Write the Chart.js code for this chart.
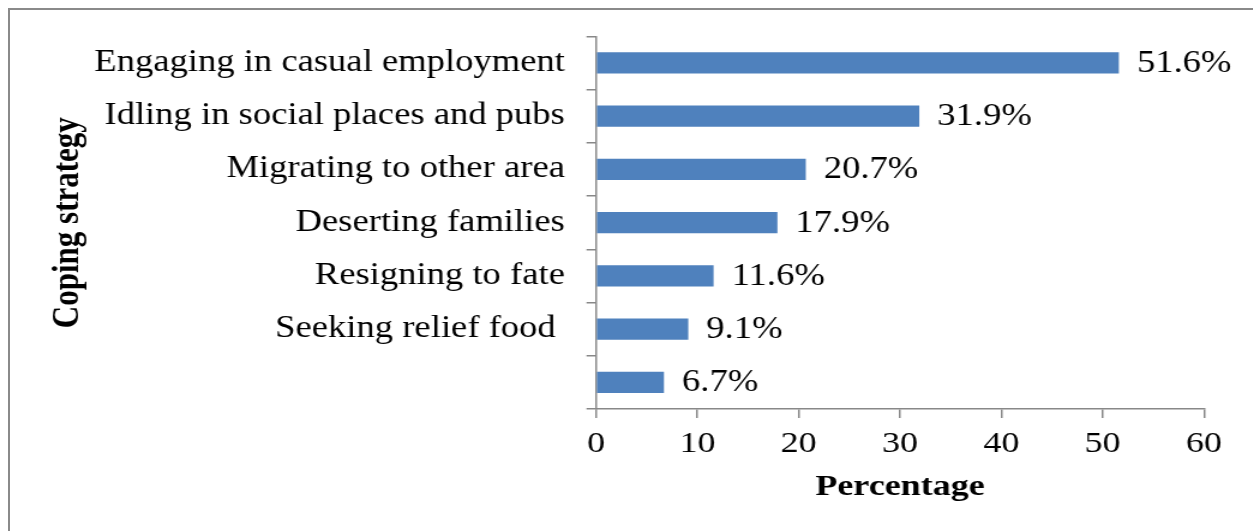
<!DOCTYPE html>
<html>
<head>
<meta charset="utf-8">
<script src="https://cdn.jsdelivr.net/npm/chart.js@4/dist/chart.umd.min.js"></script>
<style>
  html, body { margin: 0; padding: 0; background: #fff; overflow: hidden; }
  #frame {
    position: absolute; left: 8px; top: 8px; width: 1270px; height: 560px;
    border: 2px solid #8a8a8a; box-sizing: border-box;
  }
  #wrap {
    position: absolute; left: 0; top: 0; width: 1044px; height: 531px;
    transform: scaleX(1.2); transform-origin: 0 0;
  }
</style>
</head>
<body>
<div id="frame"></div>
<div id="wrap"><canvas id="myCanvas" width="1044" height="531"></canvas></div>
<script>
const strategies = [
  "Engaging in casual employment",
  "Idling in social places and pubs",
  "Migrating to other area",
  "Deserting families",
  "Resigning to fate",
  "Seeking relief food ",
  "",
];
const percentages = [51.6, 31.9, 20.7, 17.9, 11.6, 9.1, 6.7];
const xTicks = [0, 10, 20, 30, 40, 50, 60];

const serif = "'Liberation Serif', 'Times New Roman', serif";
const axisGrey = "#888888";

// writes "xx.x%" just past the end of every bar
const valueLabels = {
  id: "valueLabels",
  afterDatasetsDraw(chart) {
    const { ctx } = chart;
    const meta = chart.getDatasetMeta(0);
    ctx.save();
    ctx.font = "30.5px " + serif;
    ctx.fillStyle = "#000";
    ctx.textAlign = "left";
    ctx.textBaseline = "middle";
    meta.data.forEach((bar, i) => {
      ctx.fillText(percentages[i].toFixed(1) + "%", bar.x + 15, bar.y + 1);
    });
    ctx.restore();
  },
};

const printChart = () => {
  const ctx = document.getElementById("myCanvas").getContext("2d");

  new Chart(ctx, {
    type: "bar",
    data: {
      labels: strategies,
      datasets: [
        {
          data: percentages,
          backgroundColor: "#4F81BD",
          borderWidth: 0,
          categoryPercentage: 1,
          barPercentage: 0.4,
        },
      ],
    },
    options: {
      indexAxis: "y",
      responsive: false,
      animation: false,
      layout: { padding: { top: 35, right: 40.7, bottom: 0, left: 0 } },
      plugins: { legend: { display: false }, tooltip: { enabled: false } },
      scales: {
        x: {
          min: 0,
          max: 60,
          afterBuildTicks: (axis) => {
            axis.ticks = xTicks.map((v) => ({ value: v }));
          },
          afterFit: (axis) => {
            axis.height = 122;
          },
          ticks: { color: "#000", font: { family: serif, size: 30 }, padding: 8 },
          grid: { drawOnChartArea: false, tickLength: 9, color: axisGrey, lineWidth: 1.5 },
          border: { color: axisGrey, width: 1.5 },
          title: {
            display: true,
            text: "Percentage",
            color: "#000",
            font: { family: serif, size: 30, weight: "bold" },
            padding: { top: 0, bottom: 26 },
          },
        },
        y: {
          afterFit: (axis) => {
            axis.width = 496.7;
          },
          ticks: { color: "#000", font: { family: serif, size: 30.5 }, padding: 18 },
          grid: { drawOnChartArea: false, tickLength: 8, color: axisGrey, lineWidth: 1.5 },
          border: { color: axisGrey, width: 1.5 },
          title: {
            display: true,
            text: "Coping strategy",
            color: "#000",
            font: { family: serif, size: 31, weight: "bold" },
            padding: { top: 38, bottom: 0 },
          },
        },
      },
    },
    plugins: [valueLabels],
  });
};

printChart();
</script>
</body>
</html>
